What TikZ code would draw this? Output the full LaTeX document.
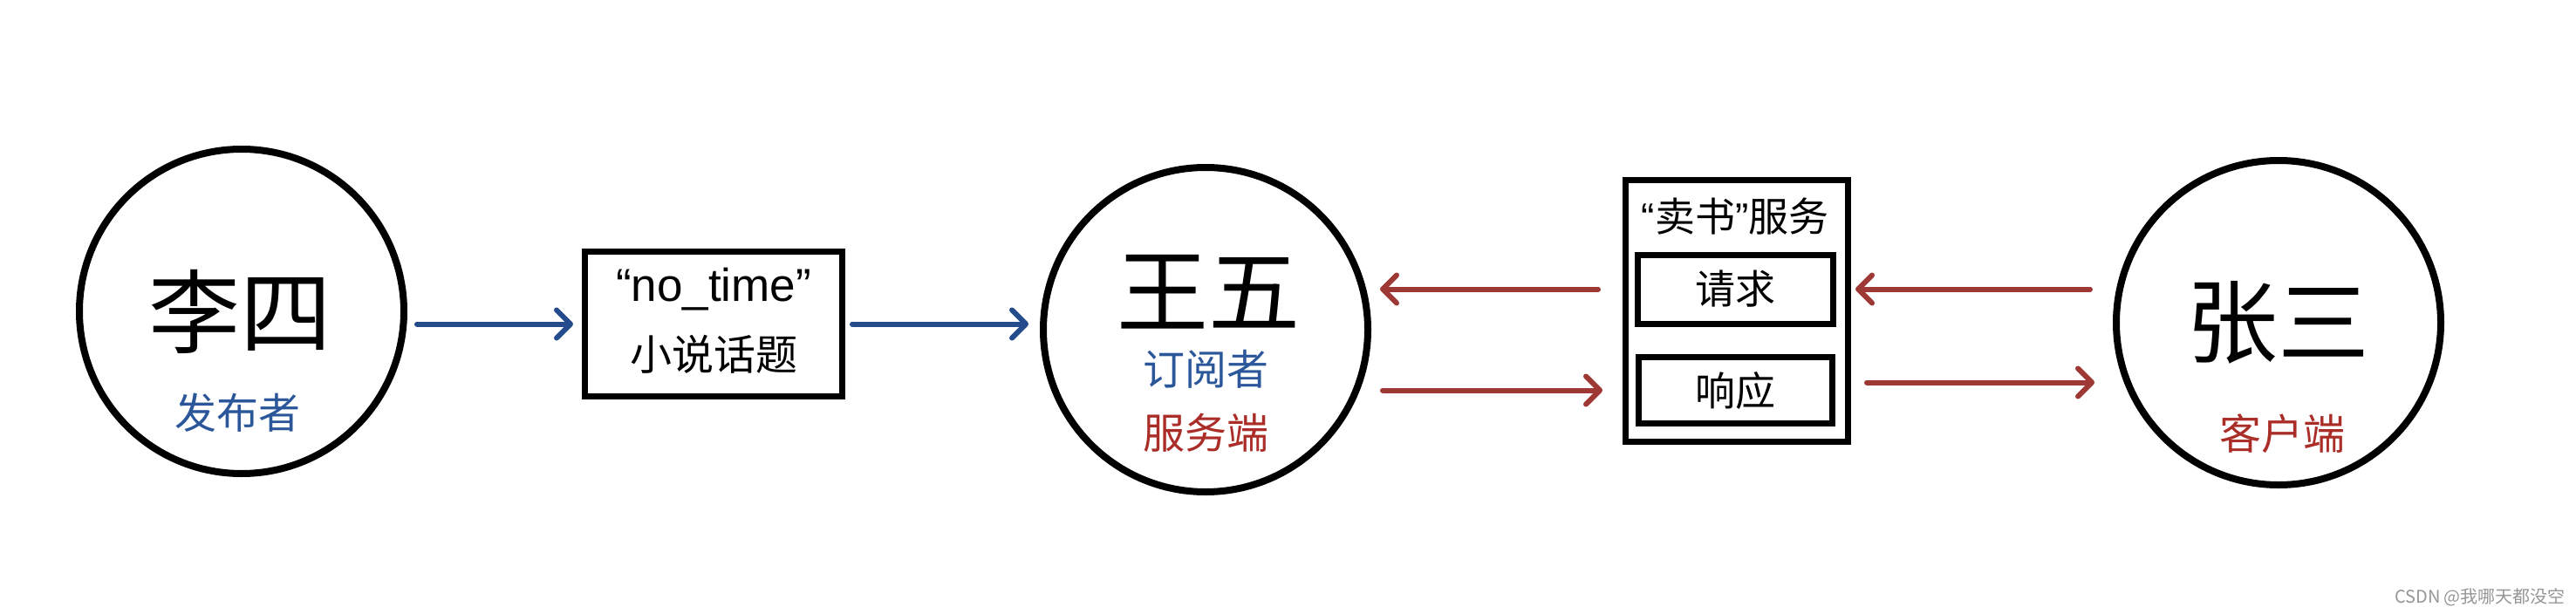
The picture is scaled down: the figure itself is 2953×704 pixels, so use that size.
\documentclass[tikz,border=0pt]{standalone}
\usepackage{fontspec}
\setmainfont{Noto Sans CJK SC}
\newfontfamily\latinfont{Liberation Sans}
\usetikzlibrary{arrows.meta}
\definecolor{arrblue}{RGB}{36,76,140}
\definecolor{txtblue}{RGB}{43,87,154}
\definecolor{arrred}{RGB}{158,56,52}
\definecolor{txtred}{RGB}{170,45,40}
\definecolor{wmgrey}{RGB}{150,150,150}
\newcommand{\myLQ}{{\latinfont “}}
\newcommand{\myRQ}{{\latinfont ”}}
\begin{document}
\begin{tikzpicture}[x=1pt,y=-1pt,
  person/.style={circle,draw=black,line width=8pt,minimum size=372pt,inner sep=0pt},
  boxed/.style={draw=black,line width=7pt,inner sep=0pt},
  bigname/.style={font=\fontsize{105}{105}\selectfont,inner sep=0pt},
  role/.style={font=\fontsize{48}{48}\selectfont,inner sep=0pt},
  boxtext/.style={font=\fontsize{46}{46}\selectfont,inner sep=0pt},
  flow/.style={line width=6pt,line cap=round,-{Straight Barb[length=16pt,width=32pt,round]}},
  blueflow/.style={flow,draw=arrblue},
  redflow/.style={flow,draw=arrred}]
\useasboundingbox[fill=white] (0,0) rectangle (2953,704);

% people
\node[person] (li) at (277,357) {};
\node[person] (wang) at (1382,378) {};
\node[person] (zhang) at (2612,370) {};

\node[bigname] (liname) at (275,357) {李四};
\node[role,text=txtblue] (lirole) at (272,473) {发布者};

\node[bigname] (wangname) at (1385,335) {王五};
\node[role,text=txtblue] (wangrole1) at (1382,423) {订阅者};
\node[role,text=txtred] (wangrole2) at (1382,496) {服务端};

\node[bigname] (zhangname) at (2611,370) {张三};
\node[role,text=txtred] (zhangrole) at (2616,497) {客户端};

% topic box
\node[boxed,minimum width=295pt,minimum height=166pt] (topic) at (818,371.5) {};
\node[role,font=\latinfont\fontsize{53}{53}\selectfont] (topicl1) at (818,332) {“no\_time”};
\node[role] (topicl2) at (818,406) {小说话题};

% service box
\node[boxed,minimum width=255pt,minimum height=300pt] (svc) at (1991,356.5) {};
\node[boxtext] (svctitle) at (1989,248) {\myLQ 卖书\myRQ 服务};
\node[boxed,minimum width=224pt,minimum height=79pt] (req) at (1989,331.5) {};
\node[boxtext] (reqtext) at (1989,331.5) {请求};
\node[boxed,minimum width=222pt,minimum height=76pt] (resp) at (1989.5,447.5) {};
\node[boxtext] (resptext) at (1989.5,447.5) {响应};

% connectors
\draw[blueflow,shorten <=11pt,shorten >=10pt] (li.east |- topic.west) -- (topic.west);
\draw[blueflow,shorten <=8pt,shorten >=13pt] (topic.east) -- (wang.west |- topic.east);

\draw[redflow,shorten <=28pt,shorten >=10pt] (svc.west |- req.center) -- (wang.east |- req.center);
\draw[redflow,shorten <=13pt,shorten >=23pt] (wang.east |- resp.center) -- (svc.west |- resp.center);

\draw[redflow,shorten <=26pt,shorten >=5pt] (zhang.west |- req.center) -- (svc.east |- req.center);
\draw[redflow,shorten <=18pt,shorten >=21pt] ([yshift=9pt]svc.east |- resp.center) -- ([yshift=9pt]zhang.west |- resp.center);

% watermark
\node[font=\fontsize{20}{20}\selectfont,text=wmgrey,inner sep=0pt] (wm) at (2843,685) {CSDN @我哪天都没空};
\end{tikzpicture}
\end{document}
